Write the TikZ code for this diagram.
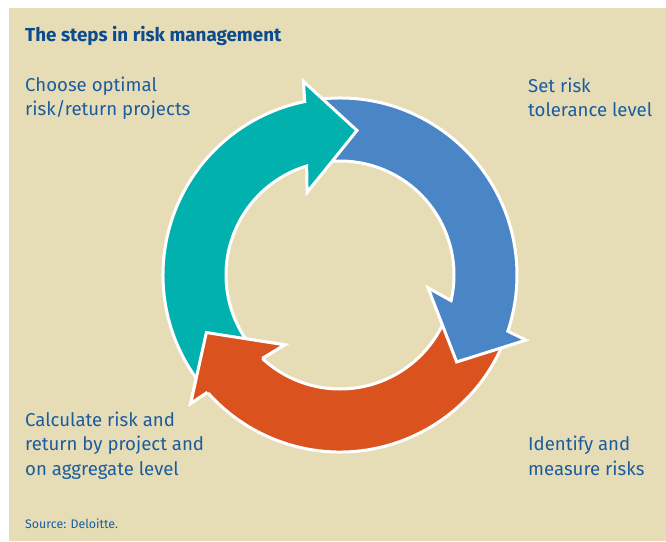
\documentclass[tikz,border=0pt]{standalone}
\usepackage{fontspec}
\setmainfont{Fira Sans}
\usetikzlibrary{positioning}

\definecolor{paper}{HTML}{E6DDB7}
\definecolor{riskteal}{HTML}{00B1AE}
\definecolor{riskblue}{HTML}{4A86C6}
\definecolor{riskorange}{HTML}{DA531E}
\definecolor{textblue}{HTML}{1B5C9F}
\definecolor{titleblue}{HTML}{0B4B8E}

\tikzset{
ringarrow/.style = {draw=white, line width=3pt, line join=miter},
steptext/.style = {anchor=base west, align=left, inner sep=0pt,
                   text=textblue, font=\fontsize{18.6}{24.3}\selectfont}
}

% ring radii
\newcommand{\outerR}{177}
\newcommand{\innerR}{114}

% #1 colour, #2 angle of the tip, #3 angle of the tail
\newcommand{\cyclearrow}[3]{%
  \filldraw[ringarrow, fill=#1] (#3:\outerR)
    arc[start angle=#3, end angle=#2+18.2, radius=\outerR]
    -- (#2+17.4:197) -- (#2:145.5) -- (#2+28.4:89) -- (#2+23.7:\innerR)
    arc[start angle=#2+23.7, end angle=#3, radius=\innerR] -- cycle;}

% head only, laid again on top of the next tail
\newcommand{\cyclehead}[2]{%
  \fill[#1] (#2+17.4:197) -- (#2:145.5) -- (#2+28.4:89) -- cycle;
  \draw[ringarrow] (#2+18.2:\outerR) -- (#2+17.4:197) -- (#2:145.5)
    -- (#2+28.4:89) -- (#2+23.7:\innerR);}

\begin{document}
\begin{tikzpicture}[x=1pt, y=1pt]
  \useasboundingbox (-340,275) rectangle (326,-266);
  \fill[paper] (-331,267) rectangle (326,-266);

  \node[anchor=base west, inner sep=0pt, text=titleblue,
        font=\fontsize{18.8}{22}\selectfont\bfseries] (title) at (-315,233)
        {The steps in risk management};

  % the cycle
  \cyclearrow{riskorange}{-156.7}{-22.7}
  \cyclearrow{riskblue}{-36.7}{97.3}
  \cyclearrow{riskteal}{83.3}{217}
  \cyclehead{riskorange}{-156.7}

  % base of a node with several lines = its last line
  \node[steptext] (choose) at (-315,159) {Choose optimal\\risk/return projects};
  \node[steptext] (tolerance) at (188,158) {Set risk\\tolerance level};
  \node[steptext] (calculate) at (-315,-200)
        {Calculate risk and\\return by project and\\on aggregate level};
  \node[steptext] (identify) at (188,-200) {Identify and\\measure risks};

  \node[anchor=base west, inner sep=0pt, text=textblue,
        font=\fontsize{12.4}{14}\selectfont] (source) at (-315,-253) {Source: Deloitte.};
\end{tikzpicture}
\end{document}
